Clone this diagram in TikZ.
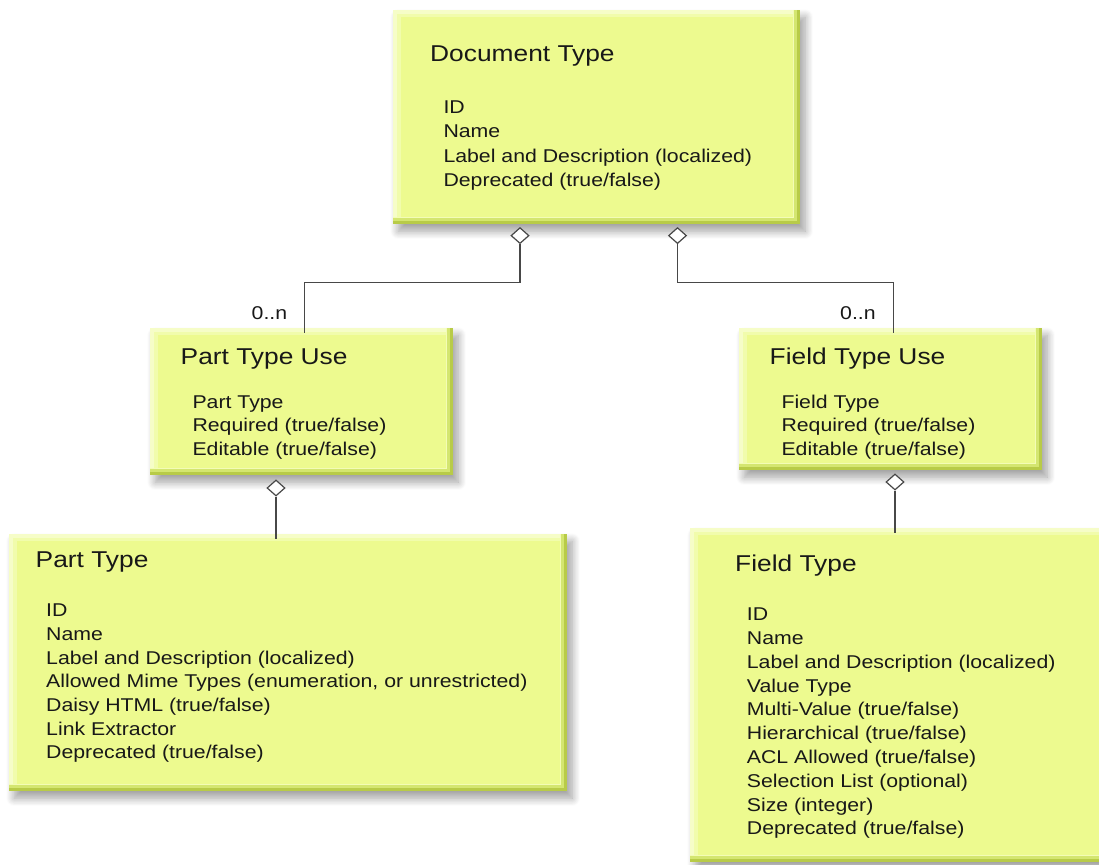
\documentclass[tikz,border=0pt]{standalone}
\usepackage{fontspec}
\setmainfont{Liberation Sans}[FakeStretch=1.15]
\usetikzlibrary{shapes.geometric,shadows.blur,calc}

\definecolor{boxfill}{RGB}{237,250,143}
\definecolor{boxpale}{RGB}{246,253,200}
\definecolor{boxsoft}{RGB}{241,252,172}
\definecolor{boxline}{RGB}{243,252,182}
\definecolor{boxmid}{RGB}{212,230,112}
\definecolor{boxdark}{RGB}{184,203,72}
\definecolor{inkcol}{RGB}{24,24,24}
\definecolor{linecol}{RGB}{72,72,72}

\newcommand\titlesize{\fontsize{22.9}{27}\selectfont}
\newcommand\attrsize{\fontsize{18.5}{23.7}\selectfont}

\tikzset{
  % bevelled class box with a soft drop shadow
  umlbox/.style={rectangle, anchor=north west, inner sep=0pt, fill=boxfill,
    blur shadow={shadow xshift=5pt, shadow yshift=-7pt, shadow blur radius=8pt,
      shadow blur steps=14, shadow opacity=38},
    path picture={
      \fill[boxdark] (path picture bounding box.south west) rectangle (path picture bounding box.north east);
      \fill[boxmid] (path picture bounding box.north west) rectangle ([shift={(-3pt,3pt)}]path picture bounding box.south east);
      \fill[boxline] (path picture bounding box.north west) rectangle ([shift={(-6pt,6pt)}]path picture bounding box.south east);
      \fill[boxpale] (path picture bounding box.north west) rectangle ([shift={(-7.5pt,7.5pt)}]path picture bounding box.south east);
      \fill[boxsoft] ([shift={(4pt,-3.5pt)}]path picture bounding box.north west) rectangle ([shift={(-7.5pt,7.5pt)}]path picture bounding box.south east);
      \fill[boxfill] ([shift={(8pt,-7pt)}]path picture bounding box.north west) rectangle ([shift={(-7.5pt,7.5pt)}]path picture bounding box.south east);
    }},
  boxtitle/.style={font=\titlesize, anchor=base west, inner sep=0pt, text=inkcol},
  attrs/.style={font=\attrsize, anchor=base west, inner sep=0pt, text=inkcol},
  mult/.style={font=\attrsize, anchor=base west, inner sep=0pt, text=inkcol},
  agg/.style={diamond, draw=linecol, fill=white, line width=1.2pt, inner sep=0pt,
    minimum width=18pt, minimum height=16pt},
  conn/.style={draw=linecol, line width=1.2pt}
}

\begin{document}
\begin{tikzpicture}[x=1pt,y=-1pt]
\useasboundingbox (0,0) rectangle (1099,864);

% class boxes
\node[umlbox, minimum width=407pt, minimum height=214pt] (dt) at (393,10) {};
\node[umlbox, minimum width=303pt, minimum height=147pt] (ptu) at (150,328) {};
\node[umlbox, minimum width=303pt, minimum height=142pt] (ftu) at (739,328) {};
\node[umlbox, minimum width=558pt, minimum height=257pt] (pt) at (9,534) {};
\node[umlbox, minimum width=430pt, minimum height=334pt] (ft) at (690,528) {};

% box titles
\node[boxtitle] (dt-title) at (430,61.7) {Document Type};
\node[boxtitle] (ptu-title) at (180.5,364.3) {Part Type Use};
\node[boxtitle] (ftu-title) at (769.5,364.3) {Field Type Use};
\node[boxtitle] (pt-title) at (35.5,567.7) {Part Type};
\node[boxtitle] (ft-title) at (735,571) {Field Type};

% attribute lists
\node[attrs, font=\fontsize{18.5}{24.5}\selectfont] (dt-attrs) at (443.3,113.3)
  {\begin{tabular}[t]{@{}l@{}}ID\\Name\\Label and Description (localized)\\Deprecated (true/false)\end{tabular}};
\node[attrs, font=\fontsize{18.5}{23.4}\selectfont] (ptu-attrs) at (192.3,408.3)
  {\begin{tabular}[t]{@{}l@{}}Part Type\\Required (true/false)\\Editable (true/false)\end{tabular}};
\node[attrs, font=\fontsize{18.5}{23.4}\selectfont] (ftu-attrs) at (781.3,408.3)
  {\begin{tabular}[t]{@{}l@{}}Field Type\\Required (true/false)\\Editable (true/false)\end{tabular}};
\node[attrs, font=\fontsize{18.5}{23.7}\selectfont] (pt-attrs) at (46,616.7)
  {\begin{tabular}[t]{@{}l@{}}ID\\Name\\Label and Description (localized)\\Allowed Mime Types (enumeration, or unrestricted)\\Daisy HTML (true/false)\\Link Extractor\\Deprecated (true/false)\end{tabular}};
\node[attrs, font=\fontsize{18.5}{23.8}\selectfont] (ft-attrs) at (746.7,620.7)
  {\begin{tabular}[t]{@{}l@{}}ID\\Name\\Label and Description (localized)\\Value Type\\Multi-Value (true/false)\\Hierarchical (true/false)\\ACL Allowed (true/false)\\Selection List (optional)\\Size (integer)\\Deprecated (true/false)\end{tabular}};

% aggregation diamonds
\node[agg] (dL) at (520,235.6) {};
\node[agg] (dR) at (677.5,235.6) {};
\node[agg] (dP) at (276,488) {};
\node[agg] (dF) at (895,482) {};

% connectors
\draw[conn] (dL.south) -- ++(0,38.5) -| ([xshift=2.5pt,yshift=-5pt]ptu.north);
\draw[conn] (dR.south) -- ++(0,38.5) -| ([xshift=2.5pt,yshift=-5pt]ftu.north);
\draw[conn] (dP.south) -- ([yshift=-5pt]dP.south |- pt.north);
\draw[conn] (dF.south) -- ([yshift=-5pt]dF.south |- ft.north);

% multiplicities
\node[mult] (mL) at (251.5,319.3) {0..n};
\node[mult] (mR) at (840,319.3) {0..n};
\end{tikzpicture}
\end{document}
